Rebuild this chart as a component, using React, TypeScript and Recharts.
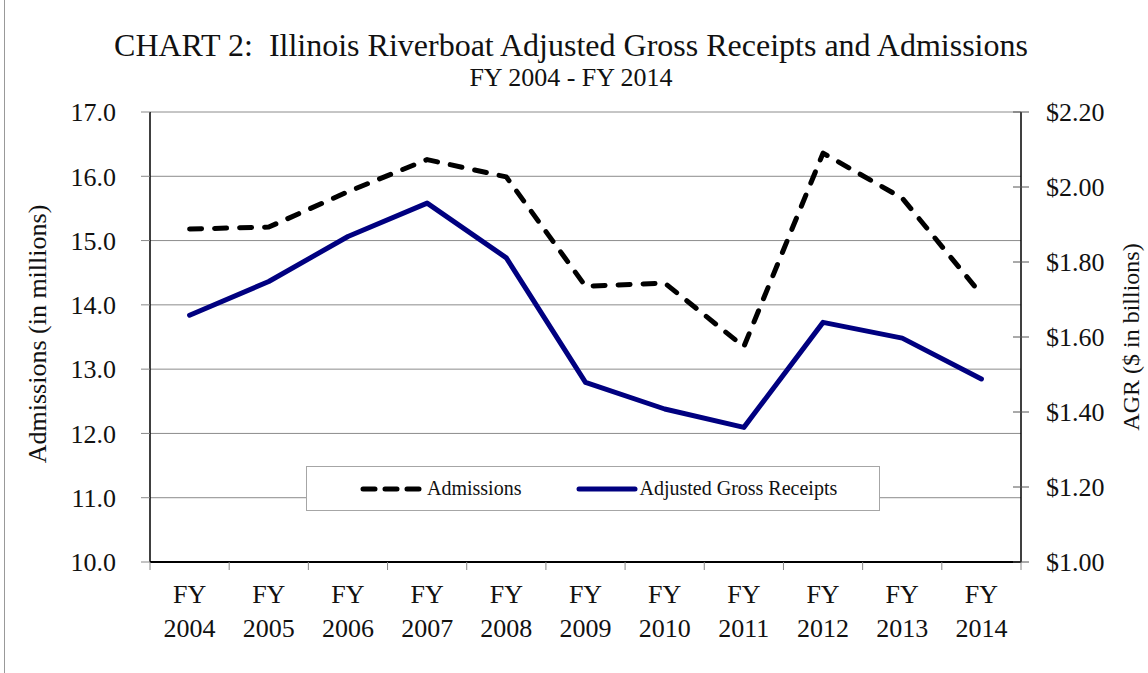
import { LineChart, Line, XAxis, YAxis, CartesianGrid, Legend } from 'recharts';

const YEARS = ['2004', '2005', '2006', '2007', '2008', '2009', '2010', '2011', '2012', '2013', '2014'];
// admissions, millions (left axis)
const ADMISSIONS = [15.18, 15.21, 15.76, 16.26, 15.99, 14.29, 14.34, 13.35, 16.36, 15.66, 14.16];
// adjusted gross receipts, $ billions (right axis)
const AGR = [1.658, 1.748, 1.868, 1.957, 1.811, 1.479, 1.408, 1.359, 1.639, 1.597, 1.488];
const LEFT_TICKS = [10, 11, 12, 13, 14, 15, 16, 17];
const RIGHT_TICKS = [1.0, 1.2, 1.4, 1.6, 1.8, 2.0, 2.2];

const W = 1148;
const H = 673;
const LEFT_W = 150;
const RIGHT_W = 127;
const BAND = (W - LEFT_W - RIGHT_W) / YEARS.length;
const FONT = '"Liberation Serif", "Times New Roman", serif';

const data = YEARS.map((y, i) => ({ year: y, admissions: ADMISSIONS[i], agr: AGR[i] }));

const XTick = (props: any) => {
  const { x, y, payload, index } = props;
  return (
    <g>
      <line x1={x - BAND / 2} x2={x - BAND / 2} y1={y} y2={y + 8} stroke="#888" />
      {index === YEARS.length - 1 && (
        <line x1={x + BAND / 2} x2={x + BAND / 2} y1={y} y2={y + 8} stroke="#888" />
      )}
      <text x={x} y={y + 41} textAnchor="middle" fontSize={26} fontFamily={FONT} fill="#111">FY</text>
      <text x={x} y={y + 75} textAnchor="middle" fontSize={26} fontFamily={FONT} fill="#111">{payload.value}</text>
    </g>
  );
};

const RightTick = (props: any) => {
  const { x, y, payload } = props;
  return (
    <g>
      <line x1={x - 33} x2={x - 17} y1={y} y2={y} stroke="#555" />
      <text x={x} y={y} dy="0.35em" textAnchor="start" fontSize={26} fontFamily={FONT} fill="#111">
        {'$' + Number(payload.value).toFixed(2)}
      </text>
    </g>
  );
};

const LegendBox = () => (
  <div style={{
    width: 572, height: 43, background: '#fff', border: '1px solid #a6a6a6',
    display: 'flex', alignItems: 'center', fontFamily: FONT, fontSize: 20, color: '#111',
  }}>
    <svg width={70} height={20} style={{ marginLeft: 50 }}>
      <line x1={6} x2={64} y1={10} y2={10} stroke="#000" strokeWidth={5} strokeDasharray="12 10" strokeLinecap="round" />
    </svg>
    <span>Admissions</span>
    <svg width={64} height={20} style={{ marginLeft: 54 }}>
      <line x1={4} x2={60} y1={10} y2={10} stroke="#000080" strokeWidth={5} strokeLinecap="round" />
    </svg>
    <span>Adjusted Gross Receipts</span>
  </div>
);

export default function App() {
  return (
    <div style={{ position: 'absolute', left: 0, top: 0, width: W, height: H, background: '#fff', fontFamily: FONT }}>
      <div style={{ position: 'absolute', left: 4, top: 0, width: 1, height: H, background: '#999' }} />
      <div style={{ position: 'absolute', left: 0, width: 1142, top: 27, textAlign: 'center', fontSize: 32, color: '#111', lineHeight: '36px' }}>
        CHART 2:&nbsp; Illinois Riverboat Adjusted Gross Receipts and Admissions
      </div>
      <div style={{ position: 'absolute', left: 0, width: 1142, top: 63, textAlign: 'center', fontSize: 26, color: '#111', lineHeight: '30px' }}>
        FY 2004 - FY 2014
      </div>
      <div style={{
        position: 'absolute', left: 38, top: 334, fontSize: 26, color: '#111', whiteSpace: 'nowrap',
        transform: 'translate(-50%, -50%) rotate(-90deg)',
      }}>
        Admissions (in millions)
      </div>
      <div style={{
        position: 'absolute', left: 1131, top: 337, fontSize: 24, color: '#111', whiteSpace: 'nowrap',
        transform: 'translate(-50%, -50%) rotate(-90deg)',
      }}>
        AGR ($ in billions)
      </div>
      <LineChart width={W} height={H} data={data} margin={{ top: 112, right: 0, bottom: 0, left: 0 }}>
        <CartesianGrid yAxisId="left" vertical={false} stroke="#8c8c8c" />
        <XAxis
          dataKey="year"
          interval={0}
          height={111}
          padding={{ left: BAND / 2, right: BAND / 2 }}
          tickSize={0}
          tickMargin={0}
          tickLine={false}
          axisLine={{ stroke: '#000', strokeWidth: 2 }}
          tick={<XTick />}
        />
        <YAxis
          yAxisId="left"
          width={LEFT_W}
          domain={[10, 17]}
          ticks={LEFT_TICKS}
          interval={0}
          tickSize={9}
          tickMargin={25}
          tickLine={{ stroke: '#888' }}
          axisLine={{ stroke: '#000', strokeWidth: 1.5 }}
          tickFormatter={(v: number) => v.toFixed(1)}
          tick={{ fontSize: 26, fontFamily: FONT, fill: '#111' }}
        />
        <YAxis
          yAxisId="right"
          orientation="right"
          width={RIGHT_W}
          domain={[1, 2.2]}
          ticks={RIGHT_TICKS}
          interval={0}
          tickSize={8}
          tickMargin={17}
          tickLine={false}
          axisLine={{ stroke: '#000', strokeWidth: 1.5 }}
          tick={<RightTick />}
        />
        <Legend
          verticalAlign="middle"
          align="center"
          content={<LegendBox />}
          wrapperStyle={{ position: 'absolute', left: 306, top: 466, width: 574, height: 45 }}
        />
        <Line
          yAxisId="right"
          type="linear"
          dataKey="agr"
          name="Adjusted Gross Receipts"
          stroke="#000080"
          strokeWidth={5}
          strokeLinejoin="round"
          strokeLinecap="round"
          dot={false}
          activeDot={false}
          isAnimationActive={false}
        />
        <Line
          yAxisId="left"
          type="linear"
          dataKey="admissions"
          name="Admissions"
          stroke="#000"
          strokeWidth={5}
          strokeDasharray="12 13"
          strokeLinecap="round"
          strokeLinejoin="round"
          dot={false}
          activeDot={false}
          isAnimationActive={false}
        />
      </LineChart>
    </div>
  );
}
